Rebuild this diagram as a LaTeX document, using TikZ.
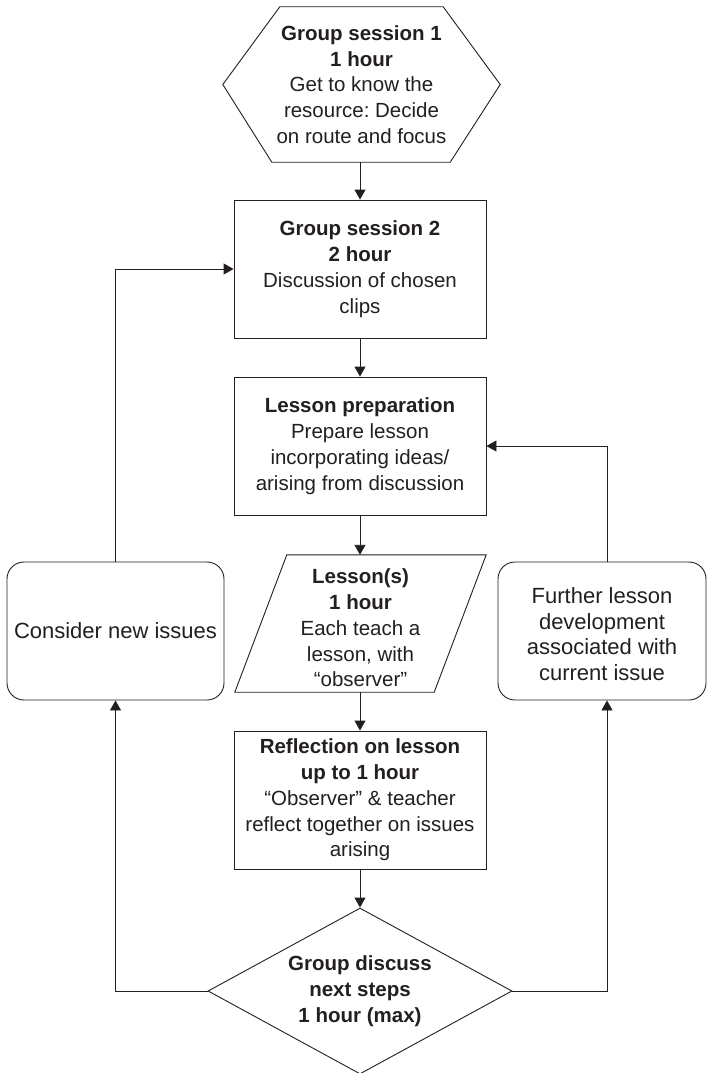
\documentclass[tikz,border=0pt]{standalone}
\usepackage{fontspec}
\setmainfont{Liberation Sans}
\frenchspacing
\usetikzlibrary{shapes.geometric,arrows.meta,calc}
\definecolor{ink}{HTML}{231F20}
\tikzset{
  txt/.style={align=center, text=ink, inner sep=0pt, font=\fontsize{20.5}{25.8}\selectfont},
  box/.style={txt, draw=ink, line width=0.9pt, minimum width=252pt, minimum height=138pt},
  rbox/.style={box, rounded corners=17pt, font=\fontsize{22}{25.5}\selectfont},
  shp/.style={draw=ink, line width=0.9pt},
  arr/.style={draw=ink, line width=0.9pt, -{Triangle[length=10pt,width=11pt]}},
  lin/.style={draw=ink, line width=0.9pt}
}
\begin{document}
\begin{tikzpicture}[x=1pt,y=-1pt]
\useasboundingbox[fill=white] (0,0) rectangle (707,1073);
% hexagon
\node[txt, minimum width=277pt, minimum height=155pt] (g1) at (361.5,84.5)
  {\textbf{Group session 1}\\\textbf{1 hour}\\Get to know the\\resource: Decide\\on route and focus};
\draw[shp] (g1.west) -- ($(g1.north west)+(57,0)$) -- ($(g1.north east)+(-57,0)$) -- (g1.east)
  -- ($(g1.south east)+(-50,0)$) -- ($(g1.south west)+(49,0)$) -- cycle;
% boxes
\node[box] (g2) at (360,269) {\textbf{Group session 2}\\\textbf{2 hour}\\Discussion of chosen\\clips};
\node[box] (prep) at (360,446) {\textbf{Lesson preparation}\\Prepare lesson\\incorporating ideas/\\arising from discussion};
% parallelogram
\node[txt, minimum width=251pt, minimum height=137pt] (les) at (360.5,623.5) {};
\node[txt] (lestxt) at (360.5,628) {\textbf{Lesson(s)}\\\textbf{1 hour}\\Each teach a\\lesson, with\\“observer”};
\draw[shp] ($(les.north west)+(52,0)$) -- (les.north east) -- ($(les.south east)+(-52,0)$) -- (les.south west) -- cycle;
\node[box] (ref) at (360,800) {\textbf{Reflection on lesson}\\\textbf{up to 1 hour}\\“Observer” \& teacher\\reflect together on issues\\arising};
% diamond
\node[txt, diamond, draw=ink, line width=0.9pt, aspect=1.8, minimum width=304pt, minimum height=166pt] (dia) at (360,991)
  {\textbf{Group discuss}\\\textbf{next steps}\\\textbf{1 hour (max)}};
% side boxes
\node[rbox, minimum width=217pt] (lb) at (115.5,631) {Consider new issues};
\node[rbox, minimum width=208pt] (rb) at (602,631) {};
\node[txt, font=\fontsize{22}{25.5}\selectfont] (rbtxt) at (602,634) {Further lesson\\development\\associated with\\current issue};
\coordinate (rc) at (607,0);
% connectors
\draw[arr] (g2.north |- g1.south) -- (g2.north);
\draw[arr] (g2.south) -- (prep.north);
\draw[arr] (prep.south) -- (prep.south |- les.north);
\draw[arr] (prep.south |- les.south) -- (ref.north);
\draw[arr] (ref.south) -- (dia.north);
\draw[arr] (dia.west) -| (lb.south);
\draw[arr] (lb.north) |- (g2.west);
\draw[arr] (dia.east) -| (rc |- rb.south);
\draw[arr] (rc |- rb.north) |- (prep.east);
\end{tikzpicture}
\end{document}
